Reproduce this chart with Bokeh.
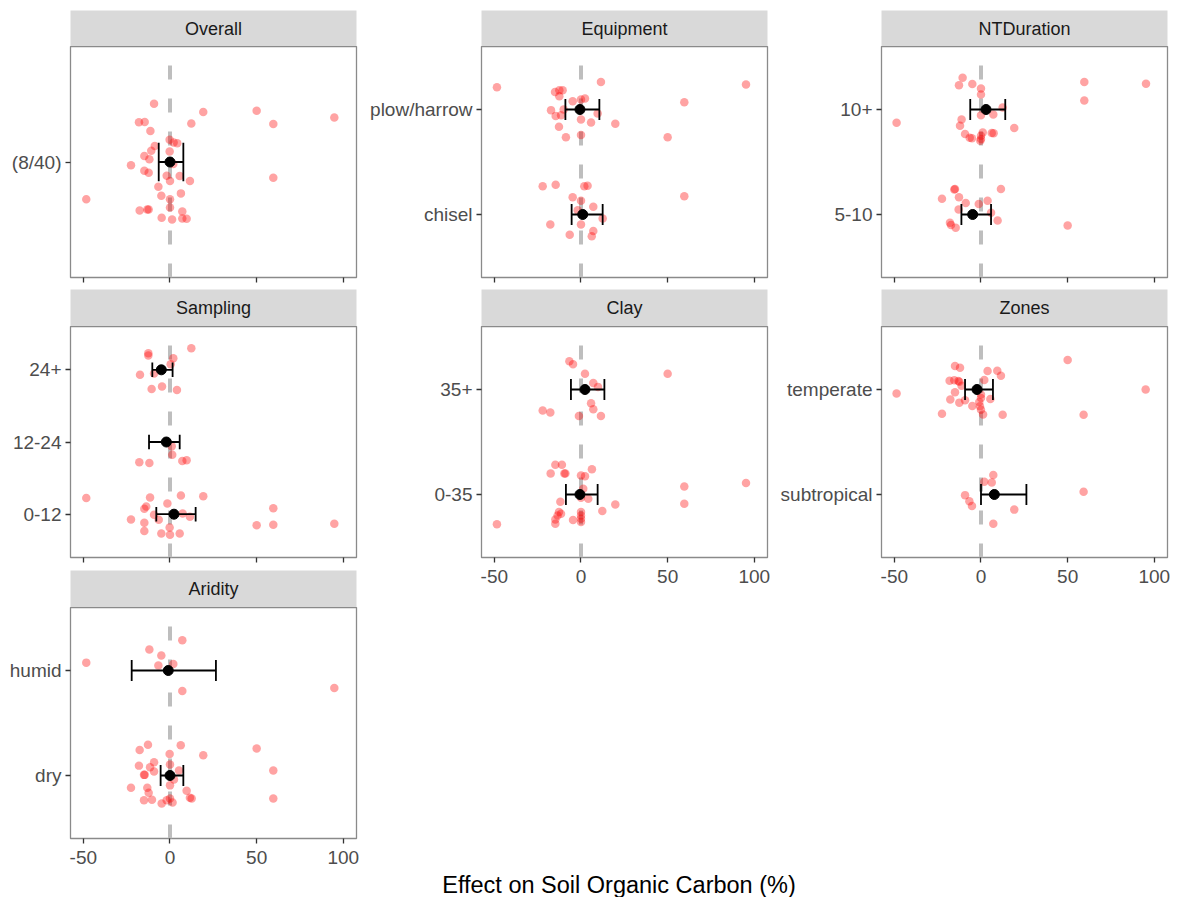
from bokeh.plotting import figure
from bokeh.layouts import column, row
from bokeh.models import Range1d, FixedTicker, Label
from bokeh.embed import file_html
from bokeh.resources import INLINE

# ---------------------------------------------------------------------------
# Data: effect on soil organic carbon (%) per observation, with the vertical
# jitter offset used to spread points within each category band.
# ---------------------------------------------------------------------------
X_TICKS = [-50, 0, 50, 100]
X_MIN, X_MAX = -57.4, 107.6

# Overall
OVERALL_LEVELS = ["(8/40)"]
OVERALL_X = [-9.2, 19.2, 50.0, 94.8, -17.9, -14.6, 12.3, 59.6, -11.3, -0.2,
             2.1, 4.2, -8.8, -10.8, -0.2, -14.8, -11.9, -22.5, 1.9, -14.8,
             -12.3, -1.9, 5.6, 0.0, 11.5, 59.6, -6.7, -5.0, 6.3, 0.0,
             -48.3, -17.5, -13.1, -12.3, 0.0, 7.1, -4.8, 1.2, 7.1, 9.6]
OVERALL_JIT = [0.302, 0.260, 0.266, 0.231, 0.207, 0.208, 0.200, 0.198, 0.161, 0.115,
               0.101, 0.097, 0.083, 0.059, 0.054, 0.031, 0.014, -0.017, -0.010, -0.045,
               -0.056, -0.071, -0.073, -0.099, -0.099, -0.082, -0.128, -0.175, -0.163, -0.193,
               -0.194, -0.252, -0.247, -0.247, -0.236, -0.257, -0.290, -0.299, -0.293, -0.295]
OVERALL_MEAN = [0.0]
OVERALL_LO = [-6.5]
OVERALL_HI = [7.7]

# Equipment
EQUIP_LEVELS = ["chisel", "plow/harrow"]
EQUIP_CHISEL_X = [-22.1, -14.6, 1.9, 3.8, 59.6, -4.8, 0.0, 7.1, -1.9, 12.5,
                  -17.7, 0.0, 7.1, -6.5, 6.2]
EQUIP_CHISEL_JIT = [0.268, 0.284, 0.268, 0.274, 0.174, 0.164, 0.132, 0.073, 0.041, -0.038,
                    -0.095, -0.095, -0.158, -0.192, -0.208]
EQUIP_PLOW_X = [-48.5, 11.5, 95.2, -15.0, -12.5, -10.6, -12.5, -4.8, 0.0, 2.3,
                59.6, -17.3, -10.0, -14.6, -11.5, 9.6, 0.0, 5.8, 19.8, -12.7,
                -8.7, 0.0, 50.0]
EQUIP_PLOW_JIT = [0.211, 0.262, 0.237, 0.167, 0.183, 0.183, 0.126, 0.079, 0.095, 0.104,
                  0.069, -0.006, 0.000, -0.063, -0.054, -0.038, -0.095, -0.123, -0.136, -0.164,
                  -0.265, -0.243, -0.265]
EQUIP_MEAN = [1.0, -0.6]
EQUIP_LO = [-5.4, -9.0]
EQUIP_HI = [12.5, 10.6]

# NT duration
NTD_LEVELS = ["5-10", "10+"]
NTD_5_10_X = [-15.0, -15.4, 11.5, -22.5, -12.7, -8.8, -1.3, 3.8, -12.9, 5.8,
              9.6, -17.9, -17.3, -14.6, 50.0]
NTD_5_10_JIT = [0.243, 0.237, 0.243, 0.151, 0.164, 0.110, 0.101, 0.132, 0.047, 0.016,
                -0.057, -0.079, -0.101, -0.126, -0.104]
NTD_10P_X = [-10.6, -12.7, -5.0, 0.0, 0.0, 59.6, 95.2, 59.6, 12.5, 0.0,
             7.1, -48.7, -11.2, -12.1, 19.2, -9.2, -6.5, -5.2, 0.0, 0.0,
             -0.4, 1.0, 6.2, 7.3]
NTD_10P_JIT = [0.303, 0.230, 0.243, 0.199, 0.142, 0.262, 0.246, 0.085, 0.019, -0.054,
               -0.047, -0.126, -0.095, -0.155, -0.177, -0.233, -0.268, -0.274, -0.249, -0.280,
               -0.297, -0.218, -0.224, -0.227]
NTD_MEAN = [-4.8, 2.9]
NTD_LO = [-11.3, -6.2]
NTD_HI = [5.8, 14.0]

# Sampling depth
SAMP_LEVELS = ["0-12", "12-24", "24+"]
SAMP_0_12_X = [-48.3, -11.5, 6.3, 19.2, -1.5, -13.7, -14.8, 59.6, -9.2, 7.3,
               11.5, -22.5, -6.5, -14.8, -0.2, 50.0, 59.6, 94.8, -14.8, -5.0,
               0.0, 5.6]
SAMP_0_12_JIT = [0.225, 0.230, 0.258, 0.248, 0.147, 0.106, 0.074, 0.083, -0.009, 0.009,
                 -0.037, -0.074, -0.078, -0.120, -0.184, -0.152, -0.147, -0.133, -0.234, -0.267,
                 -0.285, -0.267]
SAMP_12_24_X = [1.0, 1.3, -17.7, -11.9, 7.1, 9.6]
SAMP_12_24_JIT = [-0.060, -0.175, -0.281, -0.290, -0.262, -0.253]
SAMP_24P_X = [12.3, -12.5, -12.5, 1.9, 0.4, -17.3, -9.2, -10.6, -4.6, 4.0]
SAMP_24P_JIT = [0.299, 0.230, 0.198, 0.161, 0.078, -0.069, -0.051, -0.267, -0.230, -0.280]
SAMP_MEAN = [2.3, -2.1, -5.0]
SAMP_LO = [-7.9, -12.1, -10.2]
SAMP_HI = [14.8, 5.6, 1.5]

# Clay content
CLAY_LEVELS = ["0-35", "35+"]
CLAY_0_35_X = [-14.8, -11.0, 6.3, -17.5, -9.6, -9.0, 0.0, 2.3, 95.2, 59.6,
               1.3, 4.2, 0.0, -11.9, 59.6, 19.8, 12.3, -12.7, -11.5, 0.0,
               0.0, 0.0, 0.0, -13.5, -4.6, -14.8, -14.8, -48.5]
CLAY_0_35_JIT = [0.284, 0.284, 0.240, 0.199, 0.199, 0.199, 0.180, 0.174, 0.110, 0.076,
                 0.054, -0.041, -0.032, -0.069, -0.088, -0.095, -0.158, -0.167, -0.183, -0.167,
                 -0.199, -0.230, -0.262, -0.199, -0.243, -0.237, -0.278, -0.284]
CLAY_35P_X = [-6.7, -4.6, 2.3, 50.0, 7.1, 9.8, 5.8, 7.1, -22.1, -17.7, -1.2, 11.5]
CLAY_35P_JIT = [0.268, 0.240, 0.151, 0.151, 0.063, 0.025, -0.132, -0.189, -0.199, -0.218,
                -0.252, -0.252]
CLAY_MEAN = [-0.6, 2.3]
CLAY_LO = [-8.7, -5.8]
CLAY_HI = [9.6, 13.5]

# Climate zones
ZONE_LEVELS = ["subtropical", "temperate"]
ZONE_SUB_X = [7.1, 1.9, 6.2, 59.2, -9.2, -6.7, -5.2, 19.2, 7.1]
ZONE_SUB_JIT = [0.186, 0.122, 0.115, 0.026, -0.006, -0.064, -0.109, -0.144, -0.279]
ZONE_TEMP_X = [50.0, -15.0, -12.1, 3.8, 9.4, 11.5, -18.1, -15.4, -13.1, -12.5,
               1.9, 95.0, -48.7, -15.0, -11.2, 0.0, 0.0, -1.0, 5.4, -17.7,
               -12.5, -9.2, -5.0, -0.6, 0.0, -22.5, 1.2, 12.5, 59.2]
ZONE_TEMP_JIT = [0.282, 0.224, 0.208, 0.176, 0.179, 0.131, 0.083, 0.087, 0.080, 0.074,
                 0.090, 0.000, -0.038, -0.026, 0.035, -0.048, -0.080, -0.119, -0.090, -0.096,
                 -0.125, -0.103, -0.157, -0.160, -0.192, -0.231, -0.237, -0.240, -0.240]
ZONE_MEAN = [7.7, -2.3]
ZONE_LO = [0.0, -9.2]
ZONE_HI = [26.2, 6.9]

# Aridity
ARID_LEVELS = ["dry", "humid"]
ARID_DRY_X = [-12.7, 6.2, -17.5, 50.0, -0.2, 19.2, -9.2, -17.9, -11.5, 0.0,
              5.2, -9.2, -15.0, -14.6, 59.6, 2.3, 0.0, -22.5, -13.1, -12.3,
              9.6, 11.5, 12.5, -15.0, -10.4, 59.6, -1.9, 0.0, -4.8, 1.5]
ARID_DRY_JIT = [0.292, 0.289, 0.242, 0.258, 0.204, 0.192, 0.126, 0.094, 0.079, 0.104,
                0.047, 0.038, 0.006, 0.006, 0.047, -0.038, -0.094, -0.116, -0.116, -0.164,
                -0.145, -0.211, -0.220, -0.236, -0.230, -0.220, -0.236, -0.220, -0.267, -0.258]
ARID_HUM_X = [7.1, -11.9, -5.0, -48.3, 1.9, -6.7, 7.1, 94.8]
ARID_HUM_JIT = [0.289, 0.201, 0.142, 0.075, 0.063, 0.047, -0.195, -0.167]
ARID_MEAN = [0.0, -1.0]
ARID_LO = [-5.4, -22.1]
ARID_HI = [7.7, 26.5]

# ---------------------------------------------------------------------------
# Styling
# ---------------------------------------------------------------------------
FONT = "Liberation Sans"
FRAME_W, FRAME_H = 286, 231
STRIP_FILL = "#D9D9D9"
BORDER = "#8a8a8a"
TICK_COL = "#333333"
LABEL_COL = "#4D4D4D"
POINT_COL = "#FF0000"
CAP_HALF = 0.1
TICK_FONT = "19px"


def strip(title, left, right, top, h):
    s = figure(frame_width=FRAME_W, frame_height=h,
               x_range=Range1d(0, 1), y_range=Range1d(0, 1),
               x_axis_type=None, y_axis_type=None,
               min_border_left=left, min_border_right=right,
               min_border_top=top, min_border_bottom=0,
               toolbar_location=None, output_backend="svg",
               background_fill_color=STRIP_FILL, border_fill_color="white",
               outline_line_color=None)
    s.add_layout(Label(x=0.5, y=0.5, text=title, text_align="center",
                       text_baseline="middle", text_font=FONT,
                       text_font_size="18px", text_color="#1A1A1A"))
    return s


def panel(levels, groups, means, los, his, left, right, bottom, xlabels):
    n = len(levels)
    y0, y1 = 0.4, n + 0.6
    p = figure(frame_width=FRAME_W, frame_height=FRAME_H,
               x_range=Range1d(X_MIN, X_MAX), y_range=Range1d(y0, y1),
               min_border_left=left, min_border_right=right,
               min_border_top=0, min_border_bottom=bottom,
               toolbar_location=None, output_backend="svg",
               background_fill_color="white", border_fill_color="white",
               outline_line_color=BORDER, outline_line_width=1.3)
    p.xgrid.visible = False
    p.ygrid.visible = False

    for ax in (p.xaxis[0], p.yaxis[0]):
        ax.axis_line_color = None
        ax.major_tick_line_color = TICK_COL
        ax.major_tick_line_width = 1.3
        ax.major_tick_in = 0
        ax.major_tick_out = 5
        ax.minor_tick_line_color = None
        ax.major_label_text_font = FONT
        ax.major_label_text_font_size = TICK_FONT
        ax.major_label_text_color = LABEL_COL

    p.xaxis.ticker = FixedTicker(ticks=X_TICKS)
    if xlabels:
        p.xaxis.major_label_overrides = {t: str(t) for t in X_TICKS}
        p.xaxis.major_label_standoff = 7
    else:
        p.xaxis.major_label_overrides = {t: "" for t in X_TICKS}
        p.xaxis.major_label_text_font_size = "0px"
        p.xaxis.major_label_standoff = 0

    pos = list(range(1, n + 1))
    p.yaxis.ticker = FixedTicker(ticks=pos)
    p.yaxis.major_label_overrides = {i: lab for i, lab in zip(pos, levels)}
    p.yaxis.major_label_standoff = 4

    # zero reference line
    p.segment(x0=[0], y0=[y0], x1=[0], y1=[y1], line_color="#BEBEBE",
              line_width=4, line_dash="14 19")

    # individual observations
    for i, (xs, js) in enumerate(groups):
        ys = [pos[i] + j for j in js]
        p.scatter(xs, ys, size=8.5, fill_color=POINT_COL, fill_alpha=0.36,
                  line_color=None)

    # mean and confidence interval
    p.segment(x0=los, y0=pos, x1=his, y1=pos, line_color="black", line_width=1.8)
    p.segment(x0=los, y0=[v - CAP_HALF for v in pos], x1=los,
              y1=[v + CAP_HALF for v in pos], line_color="black", line_width=1.8)
    p.segment(x0=his, y0=[v - CAP_HALF for v in pos], x1=his,
              y1=[v + CAP_HALF for v in pos], line_color="black", line_width=1.8)
    p.scatter(means, pos, size=10, fill_color="black", line_color="black")
    return p


# column 1
L1, R1 = 70, 6
c1 = column(
    strip("Overall", L1, R1, 10, 36),
    panel(OVERALL_LEVELS, [(OVERALL_X, OVERALL_JIT)], OVERALL_MEAN, OVERALL_LO,
          OVERALL_HI, L1, R1, 12, False),
    strip("Sampling", L1, R1, 0, 37),
    panel(SAMP_LEVELS, [(SAMP_0_12_X, SAMP_0_12_JIT), (SAMP_12_24_X, SAMP_12_24_JIT),
                        (SAMP_24P_X, SAMP_24P_JIT)],
          SAMP_MEAN, SAMP_LO, SAMP_HI, L1, R1, 13, False),
    strip("Aridity", L1, R1, 0, 37),
    panel(ARID_LEVELS, [(ARID_DRY_X, ARID_DRY_JIT), (ARID_HUM_X, ARID_HUM_JIT)],
          ARID_MEAN, ARID_LO, ARID_HI, L1, R1, 34, True),
    spacing=0)

# column 2
L2, R2 = 119, 6
c2 = column(
    strip("Equipment", L2, R2, 10, 36),
    panel(EQUIP_LEVELS, [(EQUIP_CHISEL_X, EQUIP_CHISEL_JIT), (EQUIP_PLOW_X, EQUIP_PLOW_JIT)],
          EQUIP_MEAN, EQUIP_LO, EQUIP_HI, L2, R2, 12, False),
    strip("Clay", L2, R2, 0, 37),
    panel(CLAY_LEVELS, [(CLAY_0_35_X, CLAY_0_35_JIT), (CLAY_35P_X, CLAY_35P_JIT)],
          CLAY_MEAN, CLAY_LO, CLAY_HI, L2, R2, 40, True),
    spacing=0)

# column 3
L3, R3 = 108, 15
c3 = column(
    strip("NTDuration", L3, R3, 10, 36),
    panel(NTD_LEVELS, [(NTD_5_10_X, NTD_5_10_JIT), (NTD_10P_X, NTD_10P_JIT)],
          NTD_MEAN, NTD_LO, NTD_HI, L3, R3, 12, False),
    strip("Zones", L3, R3, 0, 37),
    panel(ZONE_LEVELS, [(ZONE_SUB_X, ZONE_SUB_JIT), (ZONE_TEMP_X, ZONE_TEMP_JIT)],
          ZONE_MEAN, ZONE_LO, ZONE_HI, L3, R3, 40, True),
    spacing=0)

# shared x-axis title, centred under the panel block
total_w = (L1 + FRAME_W + R1) + (L2 + FRAME_W + R2) + (L3 + FRAME_W + R3)
t = figure(frame_width=total_w, frame_height=25,
           x_range=Range1d(0, total_w), y_range=Range1d(0, 25),
           x_axis_type=None, y_axis_type=None, min_border=0,
           toolbar_location=None, output_backend="svg",
           outline_line_color=None, border_fill_color="white",
           background_fill_color="white")
centre = (L1 + (total_w - R3)) / 2
t.add_layout(Label(x=centre, y=13, text="Effect on Soil Organic Carbon (%)",
                   text_align="center", text_baseline="middle", text_font=FONT,
                   text_font_size="23.5px", text_color="black"))

p = column(row(c1, c2, c3, spacing=0), t, spacing=0)

open("out.html", "w").write(file_html(p, INLINE))
